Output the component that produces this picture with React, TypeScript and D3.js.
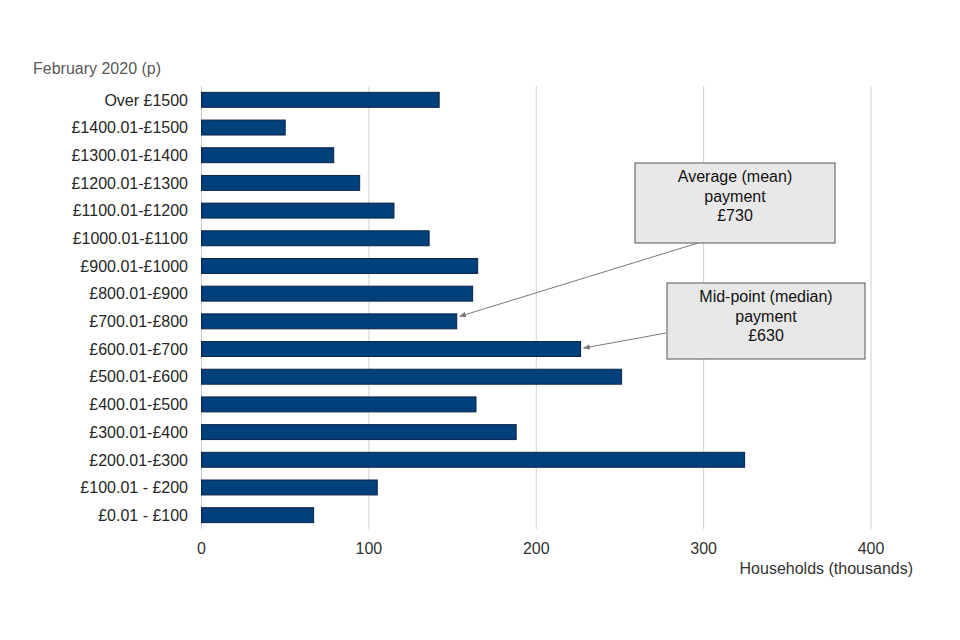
import * as d3 from 'd3'

// Households by payment band, February 2020 (p), thousands
const categories = [
  'Over £1500',
  '£1400.01-£1500',
  '£1300.01-£1400',
  '£1200.01-£1300',
  '£1100.01-£1200',
  '£1000.01-£1100',
  '£900.01-£1000',
  '£800.01-£900',
  '£700.01-£800',
  '£600.01-£700',
  '£500.01-£600',
  '£400.01-£500',
  '£300.01-£400',
  '£200.01-£300',
  '£100.01 - £200',
  '£0.01 - £100'
]
const households = [142, 50, 79, 94.5, 115, 136, 165, 162, 152.5, 226.5, 251, 164, 188, 324.5, 105, 67]
const xTicks = [0, 100, 200, 300, 400]

const annotations = [
  { lines: ['Average (mean)', 'payment', '£730'], target: '£700.01-£800' },
  { lines: ['Mid-point (median)', 'payment', '£630'], target: '£600.01-£700' }
]

const width = 960
const height = 640
const font = '"Liberation Sans", Arial, sans-serif'

export default function App() {
  const x = d3.scaleLinear().domain([0, 400]).range([201.5, 871])
  const y = d3.scaleBand<string>()
    .domain(categories)
    .range([86, 529])
    .paddingInner(0.46)
    .paddingOuter(0.23)
  const bw = y.bandwidth()
  const centre = (c: string) => (y(c) || 0) + bw / 2
  const valueOf = (c: string) => households[categories.indexOf(c)]

  const boxes = [
    { x0: 635, y0: 163, w: 200, h: 80, from: [698, 243] },
    { x0: 667, y0: 283, w: 198, h: 76, from: [666, 333] }
  ]

  return (
    <svg width={width} height={height} style={{ position: 'absolute', left: 0, top: 0, background: '#fff' }} fontFamily={font}>
      <defs>
        <marker id="arrow" viewBox="0 0 10 10" refX="9" refY="5" markerWidth="7" markerHeight="7" orient="auto-start-reverse">
          <path d="M0,1 L10,5 L0,9 z" fill="#7a7a7a" />
        </marker>
      </defs>

      <text x={33} y={74} fontSize={16} fill="#595959">February 2020 (p)</text>

      {xTicks.map(t => (
        <g key={t}>
          <line x1={x(t)} x2={x(t)} y1={86} y2={529} stroke="#d0d0d0" strokeWidth={1} />
          <text x={x(t)} y={553.5} fontSize={16} fill="#333" textAnchor="middle">{t}</text>
        </g>
      ))}

      {categories.map((c, i) => (
        <g key={c}>
          <rect x={x(0)} y={y(c)} width={x(households[i]) - x(0)} height={bw} fill="#00407b" stroke="#0b2347" strokeWidth={1} />
          <text x={188} y={centre(c)} dy="0.36em" fontSize={16} fill="#262626" textAnchor="end">{c}</text>
        </g>
      ))}

      <text x={913} y={574} fontSize={16} fill="#333" textAnchor="end">Households (thousands)</text>

      {annotations.map((a, i) => {
        const b = boxes[i]
        const tx = x(valueOf(a.target)) + 3
        const ty = centre(a.target) - 5 + i * 4
        return (
          <g key={i}>
            <line x1={b.from[0]} y1={b.from[1]} x2={tx} y2={ty} stroke="#7a7a7a" strokeWidth={1} markerEnd="url(#arrow)" />
            <rect x={b.x0} y={b.y0} width={b.w} height={b.h} fill="#e8e8e8" stroke="#555" strokeWidth={1} />
            {a.lines.map((l, j) => (
              <text key={j} x={b.x0 + b.w / 2} y={b.y0 + 19.2 + j * 19.6} fontSize={16} fill="#111" textAnchor="middle">{l}</text>
            ))}
          </g>
        )
      })}
    </svg>
  )
}
